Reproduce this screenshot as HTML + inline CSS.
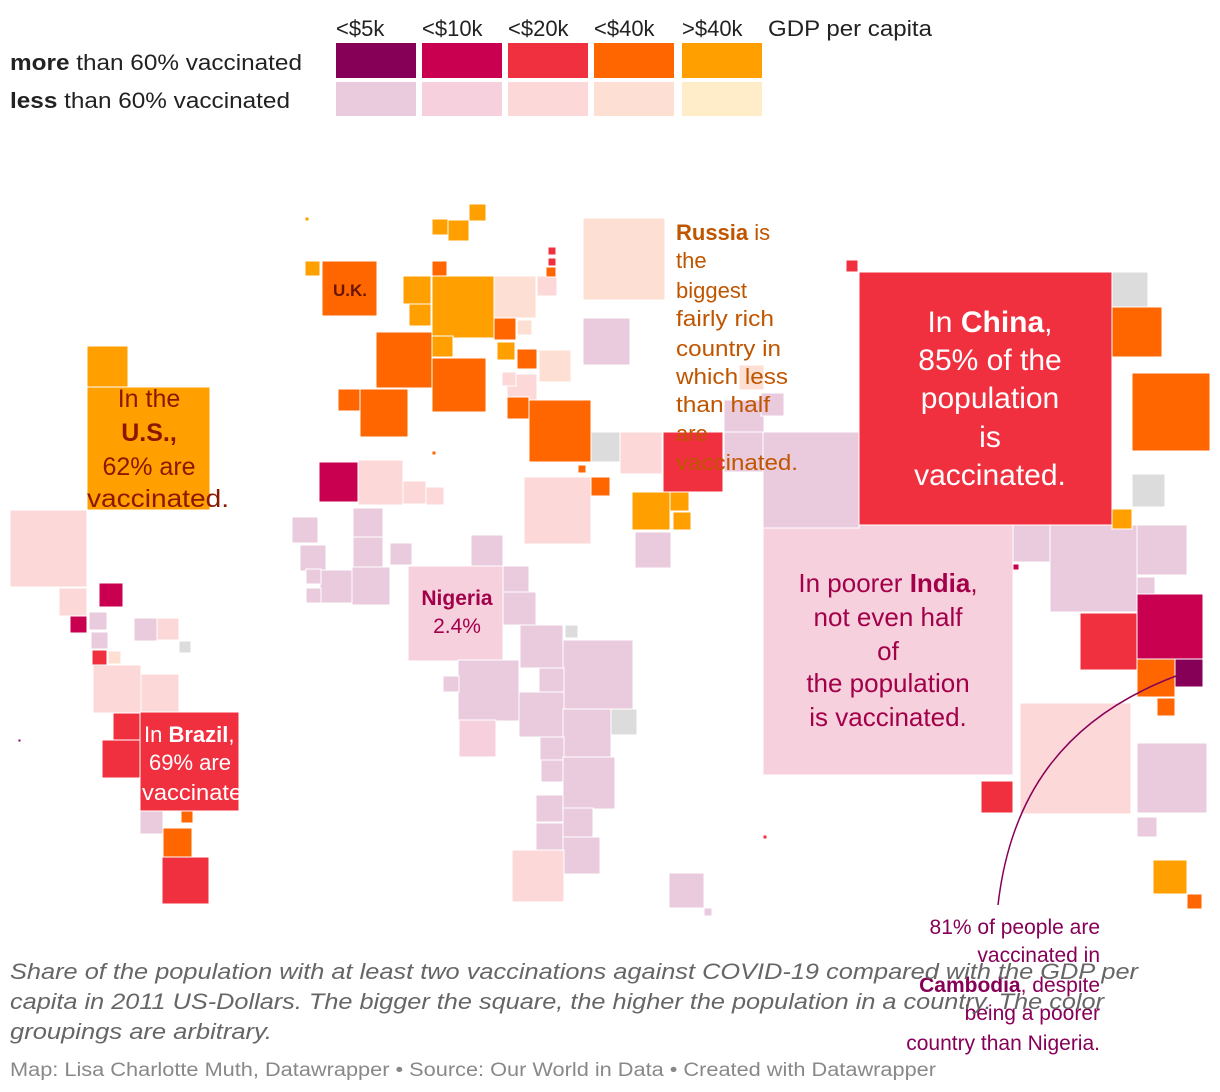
<!DOCTYPE html>
<html><head><meta charset="utf-8">
<style>
body{margin:0;background:#fff;width:1220px;height:1092px;overflow:hidden;font-family:"Liberation Sans",sans-serif}
svg{display:block}
</style></head><body>
<svg id="map" width="1220" height="1092" xmlns="http://www.w3.org/2000/svg" font-family="Liberation Sans, sans-serif"></svg>
<script>
// Legend categories
const gdpLabels = ["<$5k","<$10k","<$20k","<$40k",">$40k"];
const moreColors = ["#870058","#c8004f","#f0303f","#ff6600","#ff9f00"];
const lessColors = ["#eacadd","#f6d0dd","#fdd8d9","#fde0d3","#ffecc8"];
// Country squares: [x, y, size, group] group: M1..M5, L1..L5, G
const countries = [
["US",87,387,123,"M5"],["CAN",87,346,41,"M5"],["MEX",10,510,77,"L3"],["a1",59,588,28,"L3"],["a2",99,583,24,"M2"],
["a3",70,616,17,"M2"],["a4",89,612,18,"L1"],["a5",91,632,17,"L1"],["a6",92,650,15,"M3"],["a7",108,651,13,"L4"],
["a8",134,618,23,"L1"],["a9",157,618,22,"L3"],["a10",179,641,12,"G"],["COL",93,665,48,"L3"],["VEN",141,674,38,"L3"],
["PER",113,713,27,"M3"],["a11",102,740,38,"M3"],["BRA",140,712,99,"M3"],["a12",140,811,23,"L1"],["CHL",163,828,29,"M4"],
["ARG",162,857,47,"M3"],["a13",181,811,12,"M4"],["a14",18,739,3,"M1"],
["UK",322,261,55,"M4"],["e1",305,261,15,"M5"],["e2",305,217,4,"M5"],["e3",432,219,16,"M5"],["e4",448,220,21,"M5"],["e5",469,204,17,"M5"],
["e6",432,261,15,"M4"],["e7",403,276,28,"M5"],["e8",409,304,22,"M5"],["DEU",432,276,62,"M5"],["e9",494,276,42,"L4"],["e10",537,276,20,"L3"],
["FRA",376,332,56,"M4"],["e11",432,336,21,"M5"],["ITA",432,358,54,"M4"],["ESP",360,389,48,"M4"],["e12",338,389,22,"M4"],
["e13",494,318,22,"M4"],["e14",517,320,15,"L4"],["UKR",583,318,47,"L1"],["e15",517,349,20,"M4"],["e16",497,342,18,"M5"],
["e17",539,350,32,"L4"],["e18",507,374,30,"L3"],["e19",502,372,14,"L3"],["TUR",529,400,62,"M4"],["e20",507,397,22,"M4"],
["e21",548,247,8,"M3"],["e22",548,258,8,"M3"],["e23",546,267,10,"M4"],["RUS",583,218,82,"L4"],
["m1",591,432,30,"G"],["m2",620,432,42,"L3"],["IRN",663,432,60,"M3"],["m3",524,477,67,"L3"],["m4",591,477,19,"M4"],
["SAU",632,492,38,"M5"],["m5",670,492,19,"M5"],["m6",673,512,18,"M5"],["m7",635,532,36,"L1"],["m8",724,400,40,"L1"],
["m9",724,432,40,"L1"],["m10",739,365,25,"L4"],["m11",761,393,23,"L1"],["m12",578,465,8,"M4"],["m13",432,451,4,"M4"],
["f1",319,462,40,"M2"],["f2",358,460,45,"L3"],["f3",403,481,23,"L3"],["f4",426,487,18,"L3"],["f5",353,508,30,"L1"],
["f6",292,517,26,"L1"],["f7",300,545,26,"L1"],["f8",320,570,33,"L1"],["f9",353,537,30,"L1"],["f10",352,567,38,"L1"],
["f11",390,543,22,"L1"],["f12",306,569,15,"L1"],["f13",306,588,15,"L1"],["f14",471,535,32,"L1"],["f15",502,566,27,"L1"],
["f16",503,592,33,"L1"],["NGA",408,566,95,"L2"],["f17",520,625,43,"L1"],["f18",563,640,70,"L1"],["f19",458,660,61,"L1"],
["f20",539,668,25,"L1"],["f21",519,692,45,"L1"],["f22",563,709,48,"L1"],["f23",459,720,37,"L2"],["f24",540,737,24,"L1"],
["f25",563,757,52,"L1"],["f26",541,760,22,"L1"],["f27",536,795,27,"L1"],["f28",536,823,27,"L1"],["f29",563,808,30,"L1"],
["f30",563,837,37,"L1"],["ZAF",512,850,52,"L3"],["f31",611,709,26,"G"],["f32",565,625,13,"G"],["f33",443,676,16,"L1"],
["MDG",669,873,35,"L1"],["f34",704,908,8,"L1"],["f35",763,835,4,"M3"],
["CHN",859,272,253,"M3"],["IND",763,525,250,"L2"],["PAK",763,432,96,"L1"],["s1",1112,272,36,"G"],["JPN",1112,307,50,"M4"],
["KOR",1132,373,78,"M4"],["s2",1132,474,33,"G"],["s3",1013,525,37,"L1"],["BGD",1050,525,87,"L1"],["s4",1137,525,50,"L1"],
["s5",1137,577,18,"L1"],["VNM",1137,594,66,"M2"],["THA",1080,613,57,"M3"],["s6",1137,659,38,"M4"],["KHM",1175,659,28,"M1"],
["s7",1157,698,18,"M4"],["IDN",1020,703,111,"L3"],["PHL",1137,743,70,"L1"],["s8",981,781,32,"M3"],["s9",1137,817,20,"L1"],
["AUS",1153,860,34,"M5"],["NZL",1187,894,15,"M4"],["s10",1112,509,20,"M5"],["s11",846,260,12,"M3"],["s12",1013,564,6,"M2"]
];
const NS="http://www.w3.org/2000/svg";
const svg=document.getElementById('map');
function color(g){ if(g==="G") return "#dcdcdc"; const i=+g[1]-1; return g[0]==="M"?moreColors[i]:lessColors[i]; }
function el(tag,attrs,parent){const e=document.createElementNS(NS,tag);for(const k in attrs)e.setAttribute(k,attrs[k]);(parent||svg).appendChild(e);return e;}
const gMap=el('g',{});


countries.forEach(c=>{
  const r=el('rect',{x:c[1],y:c[2],width:c[3],height:c[3],fill:color(c[4]),stroke:"#fff","stroke-width":1},gMap);
  
  
});
// Legend
const lg=el('g',{});


const lx=[336,422,508,594,682];
gdpLabels.forEach((t,i)=>{
  const tx=el('text',{x:lx[i],y:36,"font-size":22,fill:"#222"},lg);tx.textContent=t;
  
  
  const a=el('rect',{x:lx[i],y:43,width:80,height:35,fill:moreColors[i]},lg);
  
  
  const b=el('rect',{x:lx[i],y:82,width:80,height:34,fill:lessColors[i]},lg);
  
  
});
</script>
<svg style="position:absolute;left:0;top:0" width="1220" height="1092" font-family="Liberation Sans, sans-serif">
<text x="768" y="36" font-size="22" fill="#222" textLength="164" lengthAdjust="spacingAndGlyphs">GDP per capita</text>
<text x="10" y="70" font-size="22" fill="#222" textLength="292" lengthAdjust="spacingAndGlyphs"><tspan font-weight="bold">more</tspan> than 60% vaccinated</text>
<text x="10" y="108" font-size="22" fill="#222" textLength="280" lengthAdjust="spacingAndGlyphs"><tspan font-weight="bold">less</tspan> than 60% vaccinated</text>
<text x="350" y="296" font-size="17" font-weight="bold" fill="#6a1400" text-anchor="middle">U.K.</text>
<g fill="#8a1800" font-size="25" text-anchor="middle">
<text x="149" y="407">In the</text><text x="149" y="441" font-weight="bold">U.S.,</text><text x="149" y="475">62% are</text><text x="158" y="507" textLength="142" lengthAdjust="spacingAndGlyphs">vaccinated.</text></g>
<g fill="#fff" font-size="22">
<text x="144" y="742">In <tspan font-weight="bold">Brazil</tspan>,</text><text x="149" y="770">69% are</text><text x="142" y="800" textLength="120" lengthAdjust="spacingAndGlyphs">vaccinated.</text></g>
<g fill="#a3004a" font-size="21" text-anchor="middle">
<text x="457" y="605" font-weight="bold">Nigeria</text><text x="457" y="633">2.4%</text></g>
<g fill="#c05500" font-size="22">
<text x="676" y="240"><tspan font-weight="bold">Russia</tspan> is</text><text x="676" y="268">the</text><text x="676" y="298">biggest</text><text x="676" y="326" textLength="98" lengthAdjust="spacingAndGlyphs">fairly rich</text><text x="676" y="356" textLength="105" lengthAdjust="spacingAndGlyphs">country in</text><text x="676" y="384" textLength="112" lengthAdjust="spacingAndGlyphs">which less</text><text x="676" y="412" textLength="94" lengthAdjust="spacingAndGlyphs">than half</text><text x="676" y="441">are</text><text x="676" y="470" textLength="122" lengthAdjust="spacingAndGlyphs">vaccinated.</text></g>
<g fill="#fff" font-size="30" text-anchor="middle">
<text x="990" y="332">In <tspan font-weight="bold">China</tspan>,</text><text x="990" y="370">85% of the</text><text x="990" y="408">population</text><text x="990" y="447">is</text><text x="990" y="485">vaccinated.</text></g>
<g fill="#a3004a" font-size="26" text-anchor="middle">
<text x="888" y="592">In poorer <tspan font-weight="bold">India</tspan>,</text><text x="888" y="626">not even half</text><text x="888" y="660">of</text><text x="888" y="692">the population</text><text x="888" y="726">is vaccinated.</text></g>
<path d="M998 905 C1010 800 1060 720 1176 676" fill="none" stroke="#870058" stroke-width="1.5"/>
<g fill="#870058" font-size="21" text-anchor="end">
<text x="1100" y="934">81% of people are</text><text x="1100" y="962">vaccinated in</text><text x="1100" y="992"><tspan font-weight="bold">Cambodia</tspan>, despite</text><text x="1100" y="1020">being a poorer</text><text x="1100" y="1050">country than Nigeria.</text></g>
<g fill="#666" font-size="22" font-style="italic">
<text x="10" y="979" textLength="1128" lengthAdjust="spacingAndGlyphs">Share of the population with at least two vaccinations against COVID-19 compared with the GDP per</text>
<text x="10" y="1009" textLength="1094" lengthAdjust="spacingAndGlyphs">capita in 2011 US-Dollars. The bigger the square, the higher the population in a country. The color</text>
<text x="10" y="1039" textLength="262" lengthAdjust="spacingAndGlyphs">groupings are arbitrary.</text></g>
<text x="10" y="1076" font-size="19" fill="#888" textLength="926" lengthAdjust="spacingAndGlyphs">Map: Lisa Charlotte Muth, Datawrapper • Source: Our World in Data  • Created with Datawrapper</text>
</svg>
</body></html>
